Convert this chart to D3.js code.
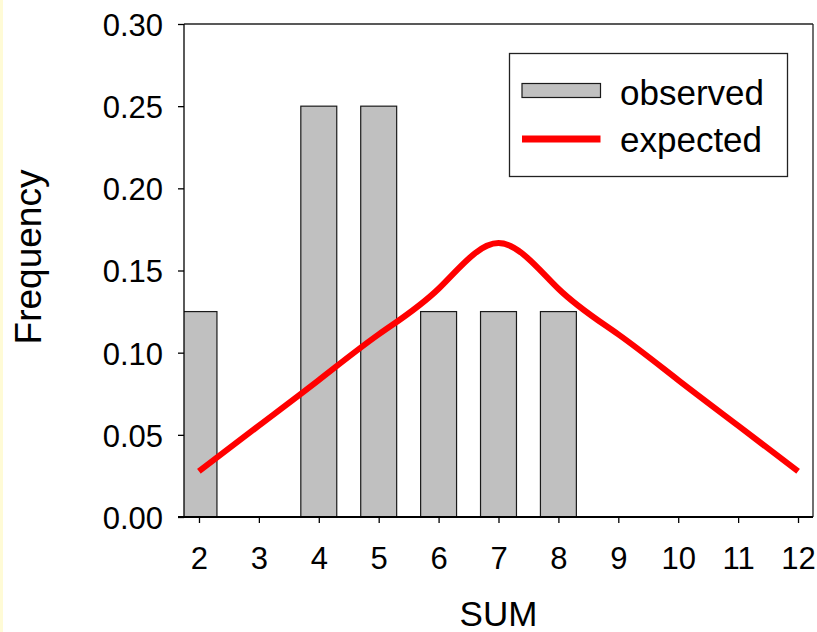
<!DOCTYPE html>
<html>
<head>
<meta charset="utf-8">
<script src="https://cdn.jsdelivr.net/npm/d3@7"></script>
<style>
  body { margin: 0; background: #fff; }
  svg text { font-family: "Liberation Sans", Arial, sans-serif; fill: #000; }
</style>
</head>
<body>
<div id="chart"></div>
<script>
// observed frequencies of the sum
var obsSums = [2, 4, 5, 6, 7, 8];
var obsFreq = [0.125, 0.25, 0.25, 0.125, 0.125, 0.125];

// expected frequencies
var expSums = [2, 3, 4, 5, 6, 7, 8, 9, 10, 11, 12];
var expFreq = [0.0278, 0.0556, 0.0833, 0.1111, 0.1389, 0.1667, 0.1389, 0.1111, 0.0833, 0.0556, 0.0278];

var xTicks = [2, 3, 4, 5, 6, 7, 8, 9, 10, 11, 12];
var yTicks = [0, 0.05, 0.10, 0.15, 0.20, 0.25, 0.30];

var W = 817, H = 632;
var plot = { left: 184, top: 24, right: 813, bottom: 517 };

var svg = d3.select("#chart").append("svg")
  .attr("width", W).attr("height", H);

// pale strip on the left edge
svg.append("rect").attr("x", 0).attr("y", 0).attr("width", 3).attr("height", H)
  .attr("fill", "#fffbd6");

var x = d3.scaleLinear().domain([1.75, 12.25]).range([plot.left, plot.right]);
var y = d3.scaleLinear().domain([0, 0.30]).range([plot.bottom, plot.top]);

svg.append("clipPath").attr("id", "plotclip")
  .append("rect")
  .attr("x", plot.left).attr("y", plot.top)
  .attr("width", plot.right - plot.left).attr("height", plot.bottom - plot.top);

// bars
var barW = 0.6;
svg.append("g").attr("clip-path", "url(#plotclip)")
  .selectAll("rect")
  .data(obsSums)
  .enter().append("rect")
  .attr("x", function(d) { return x(d - barW / 2); })
  .attr("width", function(d) { return x(d + barW / 2) - x(d - barW / 2); })
  .attr("y", function(d, i) { return y(obsFreq[i]); })
  .attr("height", function(d, i) { return y(0) - y(obsFreq[i]); })
  .attr("fill", "#c0c0c0")
  .attr("stroke", "#1a1a1a")
  .attr("stroke-width", 1.2);

// expected curve
var line = d3.line()
  .curve(d3.curveNatural)
  .x(function(d) { return x(d); })
  .y(function(d, i) { return y(expFreq[i]); });

svg.append("path")
  .datum(expSums)
  .attr("d", line)
  .attr("fill", "none")
  .attr("stroke", "#ff0000")
  .attr("stroke-width", 6);

// frame top/right
svg.append("line").attr("x1", plot.left).attr("x2", plot.right)
  .attr("y1", plot.top).attr("y2", plot.top)
  .attr("stroke", "#222").attr("stroke-width", 1.3);
svg.append("line").attr("x1", plot.right).attr("x2", plot.right)
  .attr("y1", plot.top).attr("y2", plot.bottom)
  .attr("stroke", "#222").attr("stroke-width", 1.3);

// axes
var xAxis = svg.append("g")
  .attr("transform", "translate(0," + plot.bottom + ")")
  .call(d3.axisBottom(x).tickValues(xTicks).tickSize(6).tickPadding(24).tickSizeOuter(0));
xAxis.select(".domain").remove();
xAxis.append("line").attr("x1", plot.left - 6).attr("x2", plot.right)
  .attr("stroke", "#000").attr("stroke-width", 2.2);
xAxis.selectAll(".tick line").attr("stroke", "#000").attr("stroke-width", 1.3);
xAxis.selectAll("text").style("font-size", "31px").attr("fill", "#000");

var yAxis = svg.append("g")
  .attr("transform", "translate(" + plot.left + ",0)")
  .call(d3.axisLeft(y).tickValues(yTicks).tickSize(6).tickPadding(15).tickSizeOuter(0)
    .tickFormat(d3.format(".2f")));
yAxis.select(".domain").remove();
yAxis.append("line").attr("y1", plot.top).attr("y2", plot.bottom)
  .attr("stroke", "#000").attr("stroke-width", 1.3);
yAxis.selectAll(".tick line").attr("stroke", "#000").attr("stroke-width", 1.3);
yAxis.selectAll("text").style("font-size", "31px").attr("dy", "0.37em").attr("fill", "#000");

// axis titles
svg.append("text")
  .attr("x", (plot.left + plot.right) / 2).attr("y", 626)
  .attr("text-anchor", "middle")
  .style("font-size", "35px")
  .text("SUM");

svg.append("text")
  .attr("transform", "translate(41,257) rotate(-90)")
  .attr("text-anchor", "middle")
  .style("font-size", "37px")
  .text("Frequency");

// legend
var lg = svg.append("g");
lg.append("rect").attr("x", 509.5).attr("y", 53.5).attr("width", 278).attr("height", 123)
  .attr("fill", "#fff").attr("stroke", "#222").attr("stroke-width", 1.3);
lg.append("rect").attr("x", 522).attr("y", 83.5).attr("width", 78.5).attr("height", 14)
  .attr("fill", "#c0c0c0").attr("stroke", "#1a1a1a").attr("stroke-width", 1.2);
lg.append("line").attr("x1", 522).attr("x2", 600.5).attr("y1", 139).attr("y2", 139)
  .attr("stroke", "#ff0000").attr("stroke-width", 7);
lg.append("text").attr("x", 620).attr("y", 104.5).style("font-size", "35px").text("observed");
lg.append("text").attr("x", 620).attr("y", 151.5).style("font-size", "35px").text("expected");
</script>
</body>
</html>
